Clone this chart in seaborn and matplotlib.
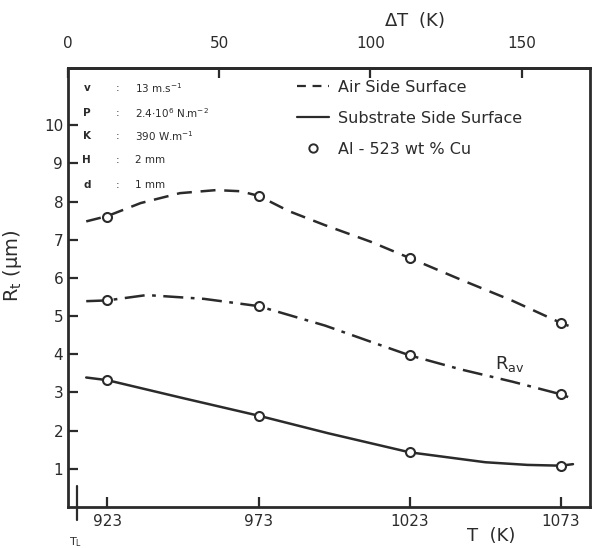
import matplotlib
matplotlib.use("Agg")
import matplotlib.pyplot as plt
from matplotlib.lines import Line2D
import seaborn as sns
import pandas as pd

# ---- data ----
T_points = [923, 973, 1023, 1073]
air_points = [7.60, 8.15, 6.52, 4.82]
avg_points = [5.41, 5.26, 3.97, 2.95]
sub_points = [3.32, 2.39, 1.43, 1.08]

air_curve_T = [916, 923, 934, 947, 959, 967, 973, 983, 995, 1010, 1023, 1040, 1057, 1073, 1076]
air_curve_R = [7.48, 7.62, 7.96, 8.22, 8.30, 8.27, 8.15, 7.75, 7.38, 6.95, 6.52, 5.95, 5.40, 4.82, 4.73]
avg_curve_T = [916, 923, 936, 955, 973, 995, 1010, 1023, 1040, 1057, 1073, 1076]
avg_curve_R = [5.39, 5.41, 5.55, 5.45, 5.26, 4.75, 4.33, 3.97, 3.60, 3.28, 2.95, 2.86]
sub_curve_T = [916, 923, 948, 973, 996, 1023, 1048, 1062, 1073, 1077]
sub_curve_R = [3.39, 3.32, 2.85, 2.39, 1.93, 1.43, 1.17, 1.10, 1.08, 1.12]

T_liquidus = 910
T_L_mark = 913
x_ticks = [923, 973, 1023, 1073]
dT_ticks = [0, 50, 100, 150]
y_ticks = [1, 2, 3, 4, 5, 6, 7, 8, 9, 10]

param_names = ["v", "P", "K", "H", "d"]
param_values = ["13 m.s$^{-1}$", "2.4$\\cdot$10$^{6}$ N.m$^{-2}$", "390 W.m$^{-1}$", "2 mm", "1 mm"]
param_y = [10.97, 10.31, 9.71, 9.09, 8.43]

legend_labels = ["Air Side Surface", "Substrate Side Surface", "Al - 523 wt % Cu"]

INK = "#2b2b2b"

sns.set_style("ticks")
plt.rcParams["font.family"] = ["DejaVu Sans"]

fig = plt.figure(figsize=(5.92, 5.48), dpi=100)
ax = fig.add_axes([0.115, 0.075, 0.882, 0.801])

df_air = pd.DataFrame({"T": air_curve_T, "R": air_curve_R})
df_avg = pd.DataFrame({"T": avg_curve_T, "R": avg_curve_R})
df_sub = pd.DataFrame({"T": sub_curve_T, "R": sub_curve_R})

sns.lineplot(data=df_air, x="T", y="R", ax=ax, color=INK, lw=1.8,
             sort=False, estimator=None)
ax.lines[-1].set_dashes([6, 3.5])
sns.lineplot(data=df_avg, x="T", y="R", ax=ax, color=INK, lw=1.8,
             sort=False, estimator=None)
ax.lines[-1].set_dashes([8, 3, 1.5, 3])
sns.lineplot(data=df_sub, x="T", y="R", ax=ax, color=INK, lw=1.8,
             sort=False, estimator=None)

pts = pd.DataFrame({"T": T_points * 3, "R": air_points + avg_points + sub_points})
sns.scatterplot(data=pts, x="T", y="R", ax=ax, s=42, facecolor="white",
                edgecolor=INK, linewidth=1.5, zorder=5, legend=False)

ax.set_xlim(910, 1082.7)
ax.set_ylim(0, 11.5)
ax.set_xticks(x_ticks)
ax.set_yticks(y_ticks)
ax.tick_params(direction="in", length=7, width=1.6, colors=INK, labelsize=11)
ax.tick_params(axis="x", pad=5)
for sp in ax.spines.values():
    sp.set_linewidth(2.0)
    sp.set_color(INK)

ax.set_xlabel("T  (K)", fontsize=13, color=INK)
ax.xaxis.set_label_coords(0.81, -0.045)
ax.set_ylabel("R$_\\mathregular{t}$ (μm)", fontsize=14, color=INK)
ax.yaxis.set_label_coords(-0.085, 0.55)

sec = ax.secondary_xaxis("top", functions=(lambda t: t - T_liquidus, lambda d: d + T_liquidus))
sec.set_xticks(dT_ticks)
sec.tick_params(direction="in", length=7, width=1.6, colors=INK, labelsize=11, pad=12)
sec.spines["top"].set_linewidth(2.0)
fig.text(0.70, 0.963, "$\\Delta$T  (K)", fontsize=13, color=INK, ha="center", va="center")

# T_L marker
ax.plot([T_L_mark, T_L_mark], [-0.35, 0.55], color=INK, lw=1.6, clip_on=False)
ax.text(T_L_mark - 0.5, -0.75, "T$_\\mathregular{L}$", fontsize=8, color=INK, ha="center", va="top")

# R_av label
ax.text(1056, 3.75, "R$_\\mathregular{av}$", fontsize=13, color=INK, ha="center", va="center")

# parameters
for name, val, yv in zip(param_names, param_values, param_y):
    ax.text(916.2, yv, name, fontsize=7.5, color=INK, ha="center", va="center", fontweight="bold")
    ax.text(926.4, yv, ":", fontsize=7.5, color=INK, ha="center", va="center")
    ax.text(932, yv, val, fontsize=7.5, color=INK, ha="left", va="center")

handles = [
    Line2D([], [], color=INK, lw=1.6, dashes=[4, 3]),
    Line2D([], [], color=INK, lw=1.6),
    Line2D([], [], color=INK, lw=0, marker="o", markersize=6,
           markerfacecolor="white", markeredgewidth=1.4),
]
leg = ax.legend(handles, legend_labels, loc="upper left", bbox_to_anchor=(0.42, 0.995),
                frameon=False, fontsize=11.5, handlelength=2.0, handletextpad=0.6,
                labelspacing=1.0, borderaxespad=0.2)
for t in leg.get_texts():
    t.set_color(INK)

fig.savefig("out.png", dpi=100, facecolor="white")
